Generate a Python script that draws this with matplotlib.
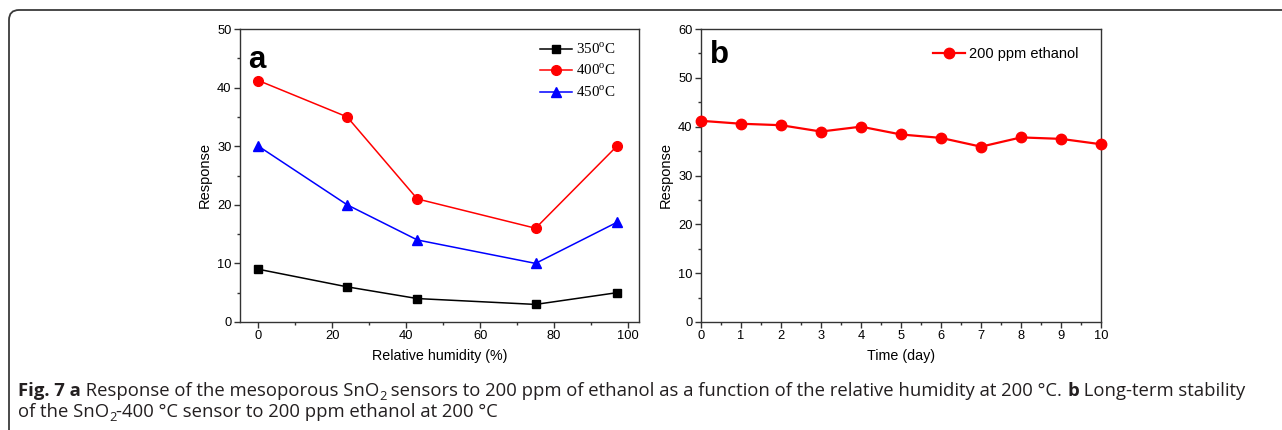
import numpy as np
import matplotlib
matplotlib.use("Agg")
import matplotlib.pyplot as plt
from matplotlib.patches import FancyBboxPatch
from matplotlib.transforms import IdentityTransform
from matplotlib.ticker import MultipleLocator

# panel a: response vs relative humidity
humidity = [0, 24, 43, 75, 97]
resp_350 = [9, 6, 4, 3, 5]
resp_400 = [41.2, 35, 21, 16, 30]
resp_450 = [30, 20, 14, 10, 17]

# panel b: long-term stability
days = [0, 1, 2, 3, 4, 5, 6, 7, 8, 9, 10]
resp_days = [41.2, 40.6, 40.3, 39.0, 40.0, 38.4, 37.7, 35.9, 37.8, 37.5, 36.4]

plt.rcParams['font.family'] = ['Liberation Sans', 'DejaVu Sans']
plt.rcParams['mathtext.fontset'] = 'custom'
plt.rcParams['mathtext.rm'] = 'Liberation Serif'

fig = plt.figure(figsize=(12.82, 4.30), dpi=100)

spine_col = '#333333'


def style_axes(ax):
    for s in ['top', 'right', 'left', 'bottom']:
        ax.spines[s].set_color(spine_col)
        ax.spines[s].set_linewidth(1.0)
    ax.tick_params(which='both', direction='out', top=False, right=False,
                   color=spine_col, labelsize=9.3, width=1.0)
    ax.tick_params(which='major', length=4, pad=2)
    ax.tick_params(which='minor', length=2.5)


axa = fig.add_axes([240 / 1282, 1 - 322 / 430, 399 / 1282, 293 / 430])
axa.plot(humidity, resp_350, '-s', color='black', lw=1.1, ms=5.5,
         label='350$^{\\mathrm{o}}$C')
axa.plot(humidity, resp_400, '-o', color='#ff0000', lw=1.1, ms=7,
         label='400$^{\\mathrm{o}}$C')
axa.plot(humidity, resp_450, '-^', color='#0000ff', lw=1.1, ms=7.5,
         label='450$^{\\mathrm{o}}$C')
axa.set_xlim(-5, 103)
axa.set_ylim(0, 50)
axa.xaxis.set_major_locator(MultipleLocator(20))
axa.xaxis.set_minor_locator(MultipleLocator(10))
axa.yaxis.set_major_locator(MultipleLocator(10))
axa.yaxis.set_minor_locator(MultipleLocator(5))
style_axes(axa)
axa.set_xlabel('Relative humidity (%)', fontsize=10.3, labelpad=4.5)
axa.set_ylabel('Response', fontsize=10.5, labelpad=4)
axa.text(0.02, 0.945, 'a', transform=axa.transAxes, fontsize=22.5,
         fontweight='bold', va='top', ha='left')
axa.legend(loc='upper right', bbox_to_anchor=(0.942, 0.957), frameon=False,
           prop={'family': 'Liberation Serif', 'size': 10.8},
           handlelength=2.1, handletextpad=0.3, labelspacing=0.4,
           borderaxespad=0, borderpad=0)

axb = fig.add_axes([701 / 1282, 1 - 322 / 430, 400 / 1282, 293 / 430])
axb.plot(days, resp_days, '-o', color='#ff0000', lw=1.6, ms=7.5,
         label='200 ppm ethanol', clip_on=False, zorder=3)
axb.set_xlim(0, 10)
axb.set_ylim(0, 60)
axb.xaxis.set_major_locator(MultipleLocator(1))
axb.xaxis.set_minor_locator(MultipleLocator(0.5))
axb.yaxis.set_major_locator(MultipleLocator(10))
axb.yaxis.set_minor_locator(MultipleLocator(5))
style_axes(axb)
axb.set_xlabel('Time (day)', fontsize=10.3, labelpad=4.5)
axb.set_ylabel('Response', fontsize=10.5, labelpad=4)
axb.text(0.022, 0.962, 'b', transform=axb.transAxes, fontsize=22.5,
         fontweight='bold', va='top', ha='left')
axb.legend(loc='upper right', bbox_to_anchor=(0.944, 0.938), frameon=False,
           fontsize=10.5, handlelength=2.2, handletextpad=0.28,
           borderaxespad=0, borderpad=0)

# rounded border round the figure and caption
border = FancyBboxPatch((9, -30), 1400, 450, boxstyle='round,pad=0,rounding_size=10',
                        transform=IdentityTransform(), facecolor='none',
                        edgecolor='#3a3a3a', lw=1.3)
fig.patches.append(border)

# caption, built run by run
cap_font = ['Open Sans', 'DejaVu Sans']
cap_size = 13.3
line1 = [('Fig. 7 a', 'bold', 0),
         (' Response of the mesoporous SnO', 'normal', 0), ('2', 'normal', 1),
         (' sensors to 200 ppm of ethanol as a function of the relative humidity at 200 °C. ', 'normal', 0),
         ('b', 'bold', 0), (' Long-term stability', 'normal', 0)]
line2 = [('of the SnO', 'normal', 0), ('2', 'normal', 1),
         ('-400 °C sensor to 200 ppm ethanol at 200 °C', 'normal', 0)]

renderer = fig.canvas.get_renderer()


def draw_runs(runs, x0, y0):
    x = x0
    for txt, weight, sub in runs:
        size = cap_size * 0.7 if sub else cap_size
        y = y0 - 4 if sub else y0
        t = fig.text(x, y, txt, transform=IdentityTransform(), fontsize=size,
                     fontweight=weight, family=cap_font, va='baseline', ha='left',
                     color='#231f20')
        bb = t.get_window_extent(renderer)
        x = bb.x1


draw_runs(line1, 18, 430 - 396)
draw_runs(line2, 18, 430 - 417)

fig.savefig('out.png', dpi=100)
